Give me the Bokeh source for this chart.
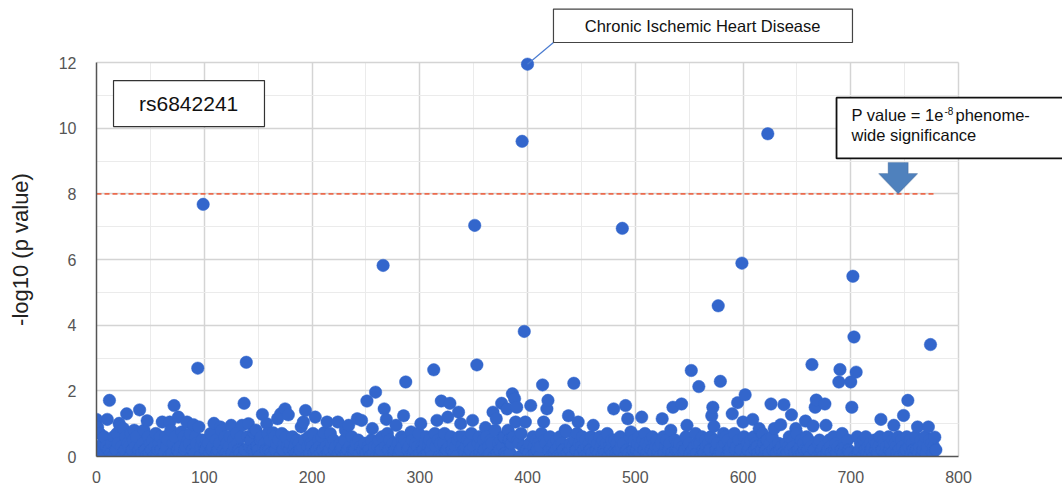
from bokeh.plotting import figure
from bokeh.models import (Range1d, SingleIntervalTicker, BoxAnnotation, Label,
                          Arrow, PolyAnnotation, ColumnDataSource)
from bokeh.embed import file_html
from bokeh.resources import INLINE

# ---------------- data ----------------
# background band of -log10(p) for phenotypes 0..779 (hand-read)
band = [
    0.1, 0.5, 0.3, 0.7, 0.2, 0.0, 0.4, 0.6, 0.1, 0.3, 0.8, 0.2, 0.5, 0.1, 0.4, 0.0, 0.6, 0.3, 0.2, 0.7,
    0.4, 0.1, 0.9, 0.3, 0.0, 0.5, 0.2, 0.6, 0.1, 0.4, 0.3, 0.0, 0.7, 0.2, 0.5, 0.1, 0.3, 0.6, 0.0, 0.2,
    0.5, 0.3, 0.1, 0.4, 0.8, 0.2, 0.0, 0.3, 0.6, 0.1, 0.4, 0.2, 0.5, 0.0, 0.3, 0.7, 0.1, 0.2, 0.4, 0.6,
    0.2, 0.0, 0.4, 0.1, 0.6, 0.3, 0.5, 0.0, 0.2, 0.8, 0.1, 0.4, 0.3, 0.6, 0.0, 0.2, 0.5, 0.1, 0.3, 0.4,
    0.0, 0.6, 0.2, 0.3, 0.1, 0.5, 0.4, 0.7, 0.0, 0.2, 0.3, 0.1, 0.6, 0.4, 0.2, 0.9, 0.0, 0.3, 0.5, 0.1,
    0.3, 0.2, 0.5, 0.0, 0.4, 0.1, 0.7, 0.2, 0.3, 0.6, 0.0, 0.5, 0.1, 0.2, 0.4, 0.3, 0.8, 0.0, 0.2, 0.6,
    0.1, 0.4, 0.0, 0.3, 0.6, 0.2, 0.1, 0.5, 0.3, 0.0, 0.7, 0.4, 0.2, 0.1, 0.6, 0.3, 0.0, 0.5, 0.2, 0.4,
    0.6, 0.1, 0.3, 0.5, 0.0, 0.2, 0.4, 0.1, 0.8, 0.3, 0.2, 0.0, 0.5, 0.6, 0.1, 0.3, 0.4, 0.2, 0.0, 0.7,
    0.2, 0.5, 0.1, 0.0, 0.3, 0.6, 0.2, 0.4, 0.1, 0.5, 0.0, 0.3, 0.7, 0.2, 0.4, 0.1, 0.6, 0.3, 0.0, 0.2,
    0.4, 0.0, 0.6, 0.2, 0.3, 0.1, 0.5, 0.0, 0.4, 0.2, 0.9, 0.3, 0.1, 0.5, 0.2, 0.0, 0.3, 0.6, 0.1, 0.4,
    0.3, 0.7, 0.1, 0.4, 0.2, 0.0, 0.5, 0.3, 0.1, 0.6, 0.2, 0.4, 0.0, 0.3, 0.5, 0.1, 0.2, 0.7, 0.4, 0.0,
    0.5, 0.2, 0.3, 0.0, 0.6, 0.1, 0.4, 0.2, 0.3, 0.0, 0.5, 0.8, 0.1, 0.2, 0.4, 0.3, 0.0, 0.6, 0.2, 0.1,
    0.2, 0.4, 0.0, 0.5, 0.1, 0.3, 0.7, 0.2, 0.0, 0.4, 0.1, 0.6, 0.3, 0.2, 0.0, 0.5, 0.4, 0.1, 0.3, 0.6,
    0.0, 0.3, 0.5, 0.1, 0.2, 0.6, 0.0, 0.4, 0.3, 0.1, 0.7, 0.2, 0.5, 0.0, 0.3, 0.4, 0.1, 0.2, 0.8, 0.3,
    0.4, 0.1, 0.2, 0.6, 0.3, 0.0, 0.5, 0.1, 0.4, 0.2, 0.3, 0.0, 0.6, 0.5, 0.1, 0.2, 0.4, 0.0, 0.3, 0.7,
    0.1, 0.5, 0.3, 0.2, 0.0, 0.4, 0.6, 0.1, 0.3, 0.5, 0.2, 0.0, 0.4, 0.1, 0.7, 0.3, 0.2, 0.5, 0.0, 0.4,
    0.3, 0.0, 0.4, 0.7, 0.1, 0.2, 0.5, 0.3, 0.0, 0.6, 0.2, 0.4, 0.1, 0.3, 0.0, 0.5, 0.2, 0.6, 0.1, 0.3,
    0.6, 0.2, 0.1, 0.3, 0.5, 0.0, 0.4, 0.2, 0.7, 0.1, 0.3, 0.5, 0.0, 0.2, 0.4, 0.6, 0.1, 0.3, 0.0, 0.5,
    0.2, 0.4, 0.6, 0.0, 0.3, 0.1, 0.5, 0.4, 0.2, 0.0, 0.8, 0.3, 0.1, 0.4, 0.2, 0.5, 0.0, 0.3, 0.6, 0.1,
    0.0, 0.3, 0.2, 0.5, 0.1, 0.4, 0.0, 0.6, 0.3, 0.2, 0.1, 0.5, 0.4, 0.0, 0.7, 0.2, 0.3, 0.1, 0.4, 0.2,
    0.5, 0.1, 0.4, 0.2, 0.0, 0.6, 0.3, 0.1, 0.5, 0.2, 0.4, 0.0, 0.3, 0.7, 0.1, 0.2, 0.5, 0.4, 0.0, 0.3,
    0.2, 0.6, 0.0, 0.3, 0.4, 0.1, 0.2, 0.5, 0.0, 0.3, 0.6, 0.1, 0.4, 0.2, 0.0, 0.8, 0.3, 0.1, 0.5, 0.2,
    0.4, 0.0, 0.3, 0.1, 0.5, 0.2, 0.7, 0.0, 0.4, 0.1, 0.3, 0.6, 0.2, 0.0, 0.5, 0.3, 0.1, 0.4, 0.2, 0.6,
    0.1, 0.3, 0.5, 0.0, 0.2, 0.4, 0.1, 0.6, 0.3, 0.0, 0.5, 0.2, 0.1, 0.4, 0.7, 0.0, 0.3, 0.2, 0.5, 0.1,
    0.3, 0.5, 0.1, 0.4, 0.0, 0.2, 0.6, 0.3, 0.1, 0.4, 0.0, 0.5, 0.2, 0.3, 0.1, 0.6, 0.4, 0.0, 0.2, 0.5,
    0.0, 0.2, 0.4, 0.6, 0.1, 0.3, 0.0, 0.5, 0.2, 0.7, 0.4, 0.1, 0.3, 0.0, 0.5, 0.2, 0.6, 0.1, 0.4, 0.3,
    0.5, 0.1, 0.3, 0.0, 0.4, 0.2, 0.6, 0.1, 0.3, 0.5, 0.0, 0.2, 0.4, 0.8, 0.1, 0.3, 0.0, 0.5, 0.2, 0.4,
    0.2, 0.4, 0.0, 0.5, 0.3, 0.1, 0.2, 0.6, 0.0, 0.3, 0.4, 0.1, 0.5, 0.2, 0.0, 0.3, 0.7, 0.1, 0.4, 0.2,
    0.4, 0.0, 0.6, 0.2, 0.1, 0.5, 0.3, 0.0, 0.4, 0.2, 0.6, 0.3, 0.1, 0.0, 0.5, 0.2, 0.4, 0.6, 0.1, 0.3,
    0.1, 0.3, 0.2, 0.4, 0.6, 0.0, 0.5, 0.2, 0.1, 0.3, 0.0, 0.4, 0.7, 0.2, 0.3, 0.1, 0.5, 0.0, 0.2, 0.4,
    0.3, 0.6, 0.1, 0.0, 0.4, 0.2, 0.3, 0.5, 0.1, 0.0, 0.6, 0.2, 0.4, 0.3, 0.1, 0.5, 0.0, 0.2, 0.7, 0.4,
    0.0, 0.2, 0.5, 0.3, 0.1, 0.4, 0.0, 0.6, 0.2, 0.5, 0.3, 0.1, 0.0, 0.4, 0.2, 0.6, 0.3, 0.1, 0.5, 0.0,
    0.4, 0.1, 0.3, 0.6, 0.2, 0.0, 0.5, 0.3, 0.1, 0.4, 0.7, 0.2, 0.0, 0.3, 0.5, 0.1, 0.4, 0.2, 0.0, 0.6,
    0.2, 0.5, 0.0, 0.3, 0.4, 0.1, 0.2, 0.6, 0.3, 0.0, 0.4, 0.5, 0.1, 0.2, 0.0, 0.3, 0.6, 0.4, 0.1, 0.2,
    0.5, 0.3, 0.1, 0.0, 0.6, 0.2, 0.4, 0.1, 0.3, 0.5, 0.0, 0.2, 0.7, 0.1, 0.4, 0.3, 0.0, 0.5, 0.2, 0.1,
    0.1, 0.4, 0.2, 0.5, 0.0, 0.3, 0.6, 0.1, 0.2, 0.4, 0.3, 0.0, 0.5, 0.2, 0.6, 0.1, 0.3, 0.0, 0.4, 0.2,
    0.3, 0.0, 0.5, 0.2, 0.4, 0.1, 0.3, 0.6, 0.0, 0.2, 0.5, 0.4, 0.1, 0.3, 0.0, 0.6, 0.2, 0.4, 0.1, 0.5,
    0.0, 0.4, 0.3, 0.1, 0.6, 0.2, 0.0, 0.5, 0.3, 0.4, 0.1, 0.2, 0.6, 0.0, 0.3, 0.5, 0.1, 0.4, 0.2, 0.0,
    0.6, 0.2, 0.4, 0.1, 0.3, 0.5, 0.0, 0.2, 0.4, 0.6, 0.1, 0.3, 0.0, 0.5, 0.2, 0.4, 0.1, 0.3, 0.5, 0.2,
]

# distinct (higher) points read individually: phenotype index and -log10(p)
hit_x = [0, 1, 10, 12, 21, 25, 28, 35, 40, 47, 61, 68, 72, 76, 79, 84, 90, 94, 99,
         109, 115, 125, 135, 137, 139, 141, 146, 154, 158, 164, 168, 171, 175, 178,
         192, 194, 203, 211, 214, 224, 234, 242, 246, 251, 256, 259, 266, 267, 269,
         278, 285, 287, 292, 301, 313, 316, 320, 326, 328, 336, 338, 349, 351, 353,
         361, 368, 371, 376, 381, 382, 386, 388, 389, 390, 395, 397, 398, 400, 403,
         414, 415, 418, 419, 436, 438, 443, 447, 461, 480, 488, 491, 493, 496, 506,
         525, 535, 543, 548, 552, 559, 571, 572, 573, 577, 579, 582, 590, 595, 599,
         600, 602, 609, 615, 623, 626, 629, 635, 638, 645, 649, 658, 664, 665, 667,
         668, 676, 677, 689, 690, 700, 701, 702, 703, 705, 728, 740, 749, 753, 762,
         772, 774, 778]
hit_y = [1.13, 0.89, 1.13, 1.71, 1.01, 0.85, 1.30, 0.80, 1.42, 1.09, 1.05, 1.05, 1.55, 1.20, 0.75, 1.05, 0.97, 2.69, 7.68,
         1.01, 0.90, 0.95, 0.95, 1.62, 2.87, 1.00, 0.72, 1.28, 1.00, 0.72, 1.15, 1.30, 1.45, 1.27,
         1.05, 1.40, 1.20, 0.72, 1.05, 1.05, 0.95, 1.15, 1.10, 1.69, 0.85, 1.96, 5.82, 1.45, 1.13,
         0.95, 1.24, 2.27, 0.75, 1.00, 2.64, 1.10, 1.69, 1.20, 1.62, 1.35, 1.00, 1.10, 7.04, 2.79,
         0.88, 1.35, 1.15, 1.62, 1.45, 0.80, 1.91, 1.76, 1.05, 1.50, 9.60, 3.81, 1.05, 11.95, 1.55,
         2.18, 1.05, 1.45, 1.71, 0.75, 1.24, 2.23, 1.05, 0.95, 1.45, 6.95, 1.55, 1.15, 0.75, 1.20,
         1.15, 1.50, 1.60, 0.95, 2.62, 2.13, 1.24, 1.50, 0.92, 4.59, 2.29, 0.70, 1.30, 1.64, 5.89,
         1.05, 1.88, 1.13, 0.85, 9.83, 1.60, 0.85, 0.97, 1.58, 1.27, 0.85, 1.08, 2.80, 0.93, 1.50,
         1.72, 1.60, 0.95, 2.27, 2.65, 2.27, 1.50, 5.49, 3.64, 2.57, 1.13, 0.95, 1.25, 1.71, 0.90,
         0.90, 3.41, 0.59]

threshold = 8  # -log10(1e-8), phenome-wide significance
y_title = "-log10 (p value)"
top_label = "Chronic Ischemic Heart Disease"
snp_label = "rs6842241"
sig_parts = ["P value = 1e", "-8", "phenome-"]
sig_line2 = "wide significance"

x_max, y_max = 800, 12
x_ticks_step = 100
y_ticks_step = 2

# ---------------- build ----------------
yvals = list(band)
for hx, hy in zip(hit_x, hit_y):
    yvals[hx] = hy
xvals = list(range(len(yvals)))
src = ColumnDataSource(dict(x=xvals, y=yvals))

FONT = "Liberation Sans"

# the frame reaches the top and right edges of the canvas so that the
# call-outs can sit outside the 0..800 x 0..12 data area
PX_X = 1.0775   # pixels per x unit
PX_Y = 32.83    # pixels per y unit
FW, FH = 966, 456
LEFT = 96

p = figure(frame_width=FW, frame_height=FH,
           x_range=Range1d(0, FW / PX_X), y_range=Range1d(0, FH / PX_Y),
           output_backend="svg", toolbar_location=None,
           min_border_left=LEFT, min_border_right=0,
           min_border_top=0, min_border_bottom=30,
           background_fill_color="white", border_fill_color="white")
p.outline_line_color = None

p.xaxis.ticker = SingleIntervalTicker(interval=x_ticks_step, num_minor_ticks=2)
p.yaxis.ticker = SingleIntervalTicker(interval=y_ticks_step, num_minor_ticks=2)
p.xaxis.bounds = (0, x_max)
p.yaxis.bounds = (0, y_max)

for ax in (p.xaxis[0], p.yaxis[0]):
    ax.major_tick_line_color = None
    ax.minor_tick_line_color = None
    ax.major_label_text_font = FONT
    ax.major_label_text_font_size = "16px"
    ax.major_label_text_color = "#555555"
    ax.axis_line_color = "#555555"
    ax.axis_line_width = 1.5

p.xaxis.major_label_standoff = 8
p.yaxis.major_label_standoff = 14

# y-axis title: a rotated label in the left side panel, centred on the
# 0..12 data span (as in the reference) rather than on the tall frame
p.add_layout(Label(x=(20 - LEFT) / PX_X, y=(456 - 249) / PX_Y, text=y_title,
                   angle=90, angle_units="deg", text_align="center",
                   text_baseline="middle", text_font=FONT,
                   text_font_size="22px", text_color="#222222"), "left")

xg, yg = p.xgrid[0], p.ygrid[0]
for g in (xg, yg):
    g.grid_line_color = "#d4d4d4"
    g.grid_line_width = 1.5
    g.minor_grid_line_color = "#ebebeb"
    g.minor_grid_line_width = 1
xg.bounds = (0, x_max)
yg.bounds = (0, y_max)
if "cross_bounds" in xg.properties():
    xg.cross_bounds = (0, y_max)
    yg.cross_bounds = (0, x_max)
else:
    p.add_layout(BoxAnnotation(bottom=y_max + 0.02, fill_color="white", fill_alpha=1,
                               line_color=None, level="underlay"))
    p.add_layout(BoxAnnotation(left=x_max + 0.5, fill_color="white", fill_alpha=1,
                               line_color=None, level="underlay"))

# threshold line
p.segment(x0=[0], x1=[max(xvals)], y0=[threshold], y1=[threshold],
          line_color="#ec6a4c", line_width=1.8, line_dash="5 3")

# points
p.scatter("x", "y", source=src, size=12.5, fill_color="#3366cc",
          line_color="#3366cc", line_width=0.5)

# --- rs label box (top left) ---
p.add_layout(BoxAnnotation(left=15.8, right=155.9, bottom=10.05, top=11.45,
                           fill_color="white", fill_alpha=1,
                           line_color="#333333", line_width=1.2, line_alpha=1))
p.add_layout(Label(x=85.5, y=10.75, text=snp_label, text_align="center",
                   text_baseline="middle", text_font=FONT,
                   text_font_size="21px", text_color="#111111"))

# --- top callout ---
peak_i = yvals.index(max(yvals))
p.add_layout(Arrow(end=None, x_start=xvals[peak_i], y_start=yvals[peak_i],
                   x_end=424.1, y_end=12.61, line_color="#4a7bd0",
                   line_width=1.2))
p.add_layout(BoxAnnotation(left=424.1, right=701.6, bottom=12.61, top=13.63,
                           fill_color="white", fill_alpha=1,
                           line_color="#444444", line_width=1.2, line_alpha=1))
p.add_layout(Label(x=562.5, y=13.12, text=top_label, text_align="center",
                   text_baseline="middle", text_font=FONT,
                   text_font_size="16.5px", text_color="#111111"))

# --- significance callout ---
p.add_layout(BoxAnnotation(left=686.8, right=905, bottom=9.08, top=10.93,
                           fill_color="white", fill_alpha=1,
                           line_color="#111111", line_width=1.8, line_alpha=1))
p.add_layout(Label(x=(851 - LEFT) / PX_X, y=10.39, text=sig_parts[0], text_align="left",
                   text_baseline="middle", text_font=FONT,
                   text_font_size="16.5px", text_color="#111111"))
p.add_layout(Label(x=(944 - LEFT) / PX_X, y=10.53, text=sig_parts[1], text_align="left",
                   text_baseline="middle", text_font=FONT,
                   text_font_size="10px", text_color="#111111"))
p.add_layout(Label(x=(955 - LEFT) / PX_X, y=10.39, text=sig_parts[2], text_align="left",
                   text_baseline="middle", text_font=FONT,
                   text_font_size="16.5px", text_color="#111111"))
p.add_layout(Label(x=(851 - LEFT) / PX_X, y=9.78, text=sig_line2, text_align="left",
                   text_baseline="middle", text_font=FONT,
                   text_font_size="16.5px", text_color="#111111"))

# block arrow pointing at the threshold
ax_c = 744.0
sh = 9.3
hh = 18.1
p.add_layout(PolyAnnotation(
    xs=[ax_c - sh, ax_c + sh, ax_c + sh, ax_c + hh, ax_c, ax_c - hh, ax_c - sh],
    ys=[8.955, 8.955, 8.62, 8.62, threshold, 8.62, 8.62],
    fill_color="#4f81bd", fill_alpha=1, line_color="#385d8a", line_width=1.2))

open("out.html", "w").write(file_html(p, INLINE))
